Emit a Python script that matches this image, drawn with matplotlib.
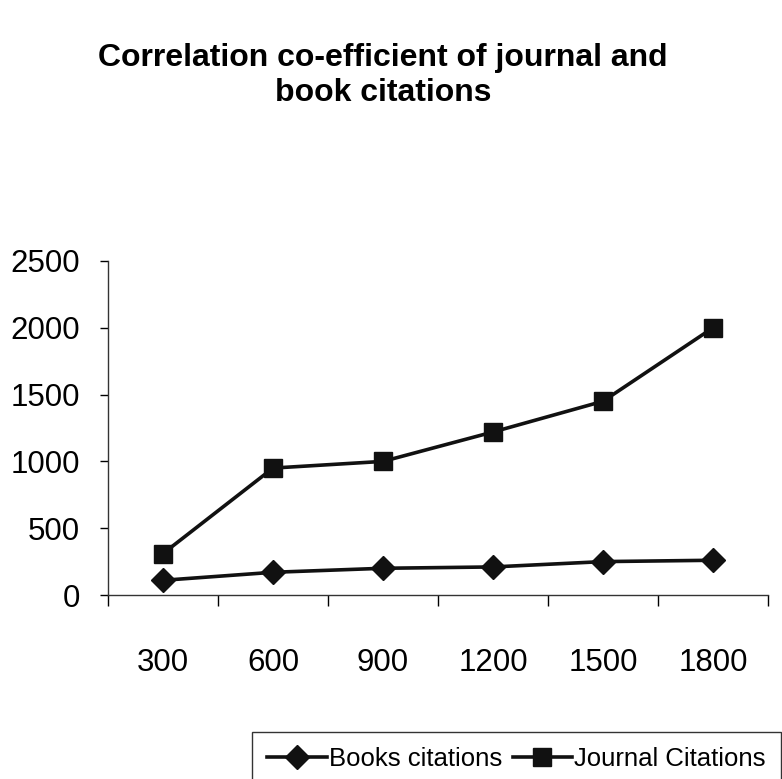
import numpy as np
import matplotlib
matplotlib.use("Agg")
import matplotlib.pyplot as plt

# data
categories = ["300", "600", "900", "1200", "1500", "1800"]
books = [110, 170, 200, 210, 250, 260]
journal = [310, 950, 1000, 1220, 1450, 2000]

plt.rcParams['font.family'] = ['Liberation Sans', 'DejaVu Sans']

fig = plt.figure(figsize=(7.82, 7.79), dpi=100)
ax = fig.add_axes([0.1381, 0.2362, 0.8440, 0.4288])

x = np.arange(len(categories))
ax.plot(x, books, color='#111111', lw=2.6, marker='D', ms=12, label='Books citations')
ax.plot(x, journal, color='#111111', lw=2.6, marker='s', ms=13, label='Journal Citations')

ax.set_xlim(-0.5, len(categories) - 0.5)
ax.set_ylim(0, 2500)
ax.set_yticks(np.arange(0, 2501, 500))

# category labels centred, tick marks between categories
ax.set_xticks(np.arange(-0.5, len(categories)), labels=[])
ax.set_xticks(x, labels=categories, minor=True)
ax.tick_params(axis='x', which='major', direction='out', length=8, width=1)
ax.tick_params(axis='x', which='minor', length=0, pad=38, labelsize=22.5)
ax.tick_params(axis='y', direction='out', length=6, width=1, labelsize=22.5, pad=14)

for s in ['top', 'right']:
    ax.spines[s].set_visible(False)
for s in ['left', 'bottom']:
    ax.spines[s].set_linewidth(1.0)
    ax.spines[s].set_color('#333333')

fig.text(0.49, 0.903, "Correlation co-efficient of journal and\nbook citations",
         ha='center', va='center', fontsize=23, fontweight='bold', linespacing=1.2)

leg = ax.legend(loc='upper left', bbox_to_anchor=(252 / 782, 1 - 732 / 779),
                bbox_transform=fig.transFigure, ncol=2, fontsize=18.5, frameon=True,
                fancybox=False, edgecolor='black', handlelength=2.3, handletextpad=0.1,
                columnspacing=0.4, borderpad=0.6, borderaxespad=0)
leg.get_frame().set_linewidth(1.0)

fig.savefig("out.png", dpi=100)
